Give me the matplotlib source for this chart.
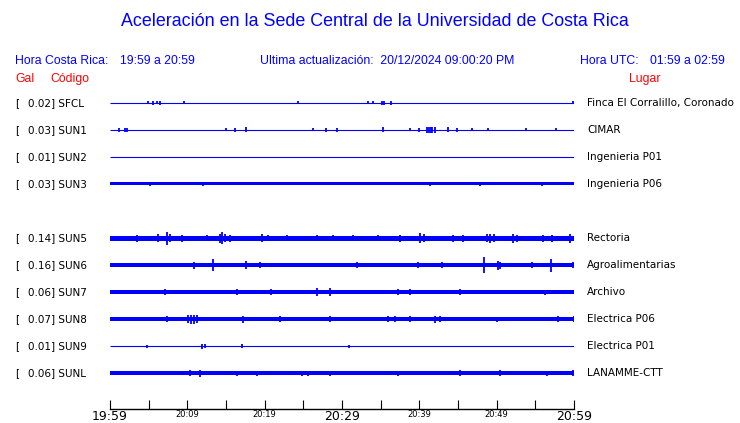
import matplotlib
matplotlib.use("Agg")
import matplotlib.pyplot as plt
import numpy as np

W, H = 740, 423
BLUE = "#0000ff"
RED = "#ff0000"

codes = ["SFCL", "SUN1", "SUN2", "SUN3", "SUN5", "SUN6", "SUN7", "SUN8", "SUN9", "SUNL"]
gal = ["0.02", "0.03", "0.01", "0.03", "0.14", "0.16", "0.06", "0.07", "0.01", "0.06"]
places = ["Finca El Corralillo, Coronado", "CIMAR", "Ingenieria P01", "Ingenieria P06",
          "Rectoria", "Agroalimentarias", "Archivo", "Electrica P06", "Electrica P01", "LANAMME-CTT"]
slots = [0, 1, 2, 3, 5, 6, 7, 8, 9, 10]

# background noise half-amplitude of each trace (px)
base_amp = [0.5, 0.5, 0.5, 1.5, 2.5, 2.0, 1.6, 1.8, 0.5, 1.6]

# events: minutes after 19:59 and half-amplitude (px)
ev_t = {
    "SFCL": [4.9, 5.6, 6.1, 6.5, 9.6, 24.3, 33.4, 34.0, 35.2, 35.4, 36.3, 59.9],
    "SUN1": [1.2, 1.9, 2.2, 15.0, 16.2, 17.6, 26.2, 27.9, 29.4, 35.3, 38.8, 40.0,
             41.0, 41.2, 41.5, 41.7, 42.0, 43.7, 44.9, 46.8, 48.9, 53.8, 57.7],
    "SUN2": [],
    "SUN3": [5.2, 12.0, 41.4, 47.8, 55.9],
    "SUN5": [3.5, 6.2, 7.4, 7.8, 9.3, 12.5, 14.2, 14.5, 14.9, 15.5, 19.7, 20.4, 22.9,
             26.8, 28.8, 31.4, 34.7, 37.5, 40.1, 40.6, 44.4, 45.6, 48.7, 49.1, 49.7,
             52.1, 52.6, 56.0, 57.2, 59.5],
    "SUN6": [10.9, 13.3, 17.6, 19.4, 31.9, 39.8, 42.9, 48.4, 50.2, 50.4, 54.6, 57.0, 59.9],
    "SUN7": [7.1, 16.4, 20.8, 26.8, 28.4, 37.2, 38.8, 45.3, 56.2],
    "SUN8": [7.4, 10.1, 10.5, 10.9, 11.2, 17.2, 22.0, 28.4, 35.9, 36.9, 38.8, 42.0,
             42.7, 50.0, 57.9, 60.0],
    "SUN9": [4.8, 11.9, 12.3, 17.1, 30.9],
    "SUNL": [10.3, 11.6, 16.4, 19.0, 24.8, 25.6, 28.4, 37.2, 45.3, 50.4, 56.5, 59.9],
}
ev_a = {
    "SFCL": [1.5, 2.0, 1.5, 2.0, 1.5, 1.5, 1.5, 1.5, 2.0, 2.0, 2.0, 1.5],
    "SUN1": [2.0, 2.0, 2.0, 1.5, 2.0, 2.5, 1.5, 2.0, 2.0, 2.5, 1.5, 2.0,
             3.0, 3.0, 3.0, 3.0, 3.0, 2.5, 2.0, 1.5, 1.5, 1.5, 1.5],
    "SUN2": [],
    "SUN3": [2.0, 2.0, 2.0, 2.0, 2.0],
    "SUN5": [3.5, 4.0, 6.5, 4.0, 3.5, 3.0, 4.5, 5.7, 4.0, 3.5, 4.0, 3.0, 3.0,
             3.0, 3.0, 3.0, 3.0, 3.5, 5.0, 4.0, 3.5, 3.5, 4.0, 4.5, 4.0,
             4.5, 3.5, 3.5, 3.5, 4.5],
    "SUN6": [3.5, 6.0, 4.0, 3.0, 3.0, 3.0, 3.0, 8.0, 4.5, 3.5, 3.0, 6.5, 3.0],
    "SUN7": [3.0, 3.0, 3.0, 4.0, 4.0, 3.0, 3.0, 3.0, 2.5],
    "SUN8": [3.0, 4.0, 4.5, 4.5, 4.0, 3.5, 3.0, 3.0, 3.0, 3.0, 3.0, 3.5,
             3.0, 2.5, 3.0, 3.0],
    "SUN9": [1.5, 2.5, 2.0, 2.0, 1.5],
    "SUNL": [3.0, 3.5, 2.5, 2.5, 2.5, 2.5, 2.5, 2.5, 3.0, 3.0, 2.5, 3.0],
}

tick_minutes = list(range(0, 61, 5))
label_minutes = [0, 10, 20, 30, 40, 50, 60]
label_texts = ["19:59", "20:09", "20:19", "20:29", "20:39", "20:49", "20:59"]
big_labels = ["19:59", "20:29", "20:59"]

fig = plt.figure(figsize=(W / 100, H / 100), dpi=100)
fig.patch.set_facecolor("white")


def fx(x):
    return x / W


def fy(y):
    return 1 - y / H


# trace axes: x in minutes, y in pixels from top
ax = fig.add_axes([fx(110), fy(409), fx(574) - fx(110), fy(90) - fy(409)])
ax.set_xlim(0, 60)
ax.set_ylim(409, 90)
for s in ["top", "left", "right"]:
    ax.spines[s].set_visible(False)
ax.spines["bottom"].set_linewidth(1.0)
ax.set_yticks([])
ax.set_xticks(tick_minutes)
ax.tick_params(axis="x", direction="in", length=6.8, width=0.8, pad=1.0)
labs = []
for m in tick_minutes:
    if m in label_minutes:
        labs.append(label_texts[label_minutes.index(m)])
    else:
        labs.append("")
ax.set_xticklabels(labs, family="DejaVu Sans")
for t in ax.get_xticklabels():
    if t.get_text() in big_labels:
        t.set_fontsize(9.0)
    else:
        t.set_fontsize(6)

for i, code in enumerate(codes):
    yc = 103 + 27 * slots[i]
    b = base_amp[i]
    if b <= 0.5:
        ax.plot([0, 60], [yc, yc], color=BLUE, lw=0.8, solid_capstyle="butt")
    else:
        ax.fill_between([0, 60], yc - b, yc + b, color=BLUE, lw=0)
    ts = ev_t[code]
    amps = ev_a[code]
    if ts:
        ax.vlines(ts, [yc - a for a in amps], [yc + a for a in amps],
                  color=BLUE, lw=1.3)
    # left label
    fig.text(fx(15), fy(yc), "[", fontsize=7.5, family="DejaVu Sans",
             va="center", ha="left")
    fig.text(fx(28), fy(yc), f"{gal[i]}] {code}", fontsize=7.5,
             family="DejaVu Sans", va="center", ha="left")
    fig.text(fx(587), fy(yc), places[i], fontsize=7.45, family="DejaVu Sans",
             va="center", ha="left")

# headers
hf = "Liberation Sans"
fig.text(fx(375), fy(22), "Aceleración en la Sede Central de la Universidad de Costa Rica",
         fontsize=12.9, family=hf, color=BLUE, ha="center", va="center")
fig.text(fx(15), fy(61), "Hora Costa Rica:", fontsize=8.8, family=hf, color=BLUE,
         va="center")
fig.text(fx(120), fy(61), "19:59 a 20:59", fontsize=8.8, family=hf, color=BLUE,
         va="center")
fig.text(fx(260), fy(61), "Ultima actualización:  20/12/2024 09:00:20 PM", fontsize=8.8,
         family=hf, color=BLUE, va="center")
fig.text(fx(580), fy(61), "Hora UTC:", fontsize=8.8, family=hf, color=BLUE,
         va="center")
fig.text(fx(650), fy(61), "01:59 a 02:59", fontsize=8.8, family=hf, color=BLUE,
         va="center")
fig.text(fx(15), fy(79), "Gal", fontsize=8.8, family=hf, color=RED, va="center")
fig.text(fx(50), fy(79), "Código", fontsize=8.8, family=hf, color=RED, va="center")
fig.text(fx(629), fy(79), "Lugar", fontsize=8.8, family=hf, color=RED, va="center")

fig.savefig("out.png", dpi=100, facecolor="white")
